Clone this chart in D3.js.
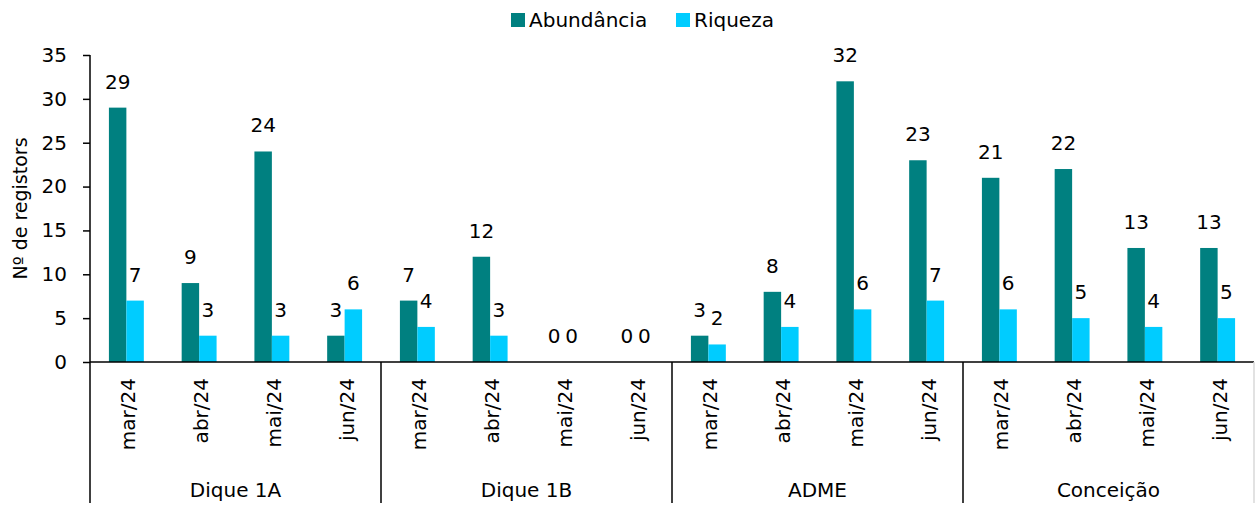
<!DOCTYPE html>
<html>
<head>
<meta charset="utf-8">
<script src="https://cdn.jsdelivr.net/npm/d3@7"></script>
<style>
    body { margin: 0; background: #fff; }
    text { font-family: "DejaVu Sans", Verdana, sans-serif; fill: #000; }
</style>
</head>
<body>
<div id="chart"></div>
<script>
const groups = ['Dique 1A', 'Dique 1B', 'ADME', 'Conceição'];
const months = ['mar/24', 'abr/24', 'mai/24', 'jun/24'];
const seriesNames = ['Abundância', 'Riqueza'];
const abundancia = [29, 9, 24, 3, 7, 12, 0, 0, 3, 8, 32, 23, 21, 22, 13, 13];
const riqueza = [7, 3, 3, 6, 4, 3, 0, 0, 2, 4, 6, 7, 6, 5, 4, 5];
const yTicks = [0, 5, 10, 15, 20, 25, 30, 35];

const colors = ['#008080', '#00ccff'];

const w = 1255, h = 507;
const margin = { left: 90, right: 1, top: 55, bottom: 145 };
const fontSize = 20;

// one row per category (group x month)
const rows = [];
groups.forEach((g, gi) => {
    months.forEach((m, mi) => {
        const i = gi * months.length + mi;
        rows.push({ key: i, group: g, month: m, values: [abundancia[i], riqueza[i]] });
    });
});

const svg = d3.select('#chart')
    .append('svg')
    .attr('width', w)
    .attr('height', h);

const scaleX = d3.scaleBand()
    .domain(rows.map((d) => d.key))
    .range([margin.left, w - margin.right])
    .paddingInner(0.52)
    .paddingOuter(0.26);

const scaleSub = d3.scaleBand()
    .domain([0, 1])
    .range([0, scaleX.bandwidth()]);

const scaleY = d3.scaleLinear()
    .domain([0, 35])
    .range([h - margin.bottom, margin.top]);

// y axis
const yAxis = d3.axisLeft(scaleY)
    .tickValues(yTicks)
    .tickSize(7)
    .tickSizeOuter(0)
    .tickPadding(16);

const yG = svg.append('g')
    .attr('transform', `translate(${margin.left}, 0)`)
    .call(yAxis);
yG.select('.domain').remove();
yG.selectAll('.tick line').attr('stroke', '#000').attr('stroke-width', 1.5);
yG.selectAll('.tick text')
    .style('font-size', fontSize + 'px')
    .attr('font-family', null);

svg.append('text')
    .attr('transform', `translate(27, ${(scaleY(0) + scaleY(35)) / 2}) rotate(-90)`)
    .attr('text-anchor', 'middle')
    .style('font-size', '19px')
    .text('Nº de registors');

// bars
const cat = svg.selectAll('.cat')
    .data(rows)
    .enter()
    .append('g')
    .attr('class', 'cat')
    .attr('transform', (d) => `translate(${scaleX(d.key)}, 0)`);

cat.selectAll('rect')
    .data((d) => d.values)
    .enter()
    .append('rect')
    .attr('x', (d, i) => scaleSub(i))
    .attr('y', (d) => scaleY(d))
    .attr('width', scaleSub.bandwidth())
    .attr('height', (d) => scaleY(0) - scaleY(d))
    .attr('fill', (d, i) => colors[i]);

cat.selectAll('.val')
    .data((d) => d.values)
    .enter()
    .append('text')
    .attr('class', 'val')
    .attr('x', (d, i) => scaleSub(i) + scaleSub.bandwidth() / 2)
    .attr('y', (d) => scaleY(d) - 19)
    .attr('text-anchor', 'middle')
    .style('font-size', fontSize + 'px')
    .text((d) => d);

// x axis line + month labels
const baseY = scaleY(0);
svg.append('line')
    .attr('x1', margin.left).attr('x2', w - margin.right)
    .attr('y1', baseY).attr('y2', baseY)
    .attr('stroke', '#000').attr('stroke-width', 1.5);

svg.selectAll('.month')
    .data(rows)
    .enter()
    .append('text')
    .attr('class', 'month')
    .attr('transform', (d) => `translate(${scaleX(d.key) + scaleX.bandwidth() / 2 + 2}, ${baseY + 16}) rotate(-90)`)
    .attr('text-anchor', 'end')
    .attr('dy', '0.35em')
    .style('font-size', fontSize + 'px')
    .text((d) => d.month);

// group separators and labels
const step = scaleX.step();
const groupEdges = d3.range(groups.length + 1).map((i) => margin.left + i * months.length * step);

svg.append('line')
    .attr('x1', margin.left).attr('x2', margin.left)
    .attr('y1', margin.top).attr('y2', h - 4)
    .attr('stroke', '#000').attr('stroke-width', 1.5);

svg.selectAll('.sep')
    .data(groupEdges.slice(1))
    .enter()
    .append('line')
    .attr('class', 'sep')
    .attr('x1', (d) => d).attr('x2', (d) => d)
    .attr('y1', baseY).attr('y2', h - 4)
    .attr('stroke', (d, i) => i === groups.length - 1 ? '#d9d9d9' : '#000')
    .attr('stroke-width', 1.5);

svg.selectAll('.grp')
    .data(groups)
    .enter()
    .append('text')
    .attr('class', 'grp')
    .attr('x', (d, i) => (groupEdges[i] + groupEdges[i + 1]) / 2)
    .attr('y', 497)
    .attr('text-anchor', 'middle')
    .style('font-size', fontSize + 'px')
    .text((d) => d);

// legend
const legendX = [511, 676];
const legend = svg.selectAll('.legend')
    .data(seriesNames)
    .enter()
    .append('g')
    .attr('class', 'legend')
    .attr('transform', (d, i) => `translate(${legendX[i]}, 0)`);

legend.append('rect')
    .attr('x', 0).attr('y', 13)
    .attr('width', 14).attr('height', 14)
    .attr('fill', (d, i) => colors[i]);

legend.append('text')
    .attr('x', 18).attr('y', 27)
    .style('font-size', fontSize + 'px')
    .text((d) => d);
</script>
</body>
</html>
